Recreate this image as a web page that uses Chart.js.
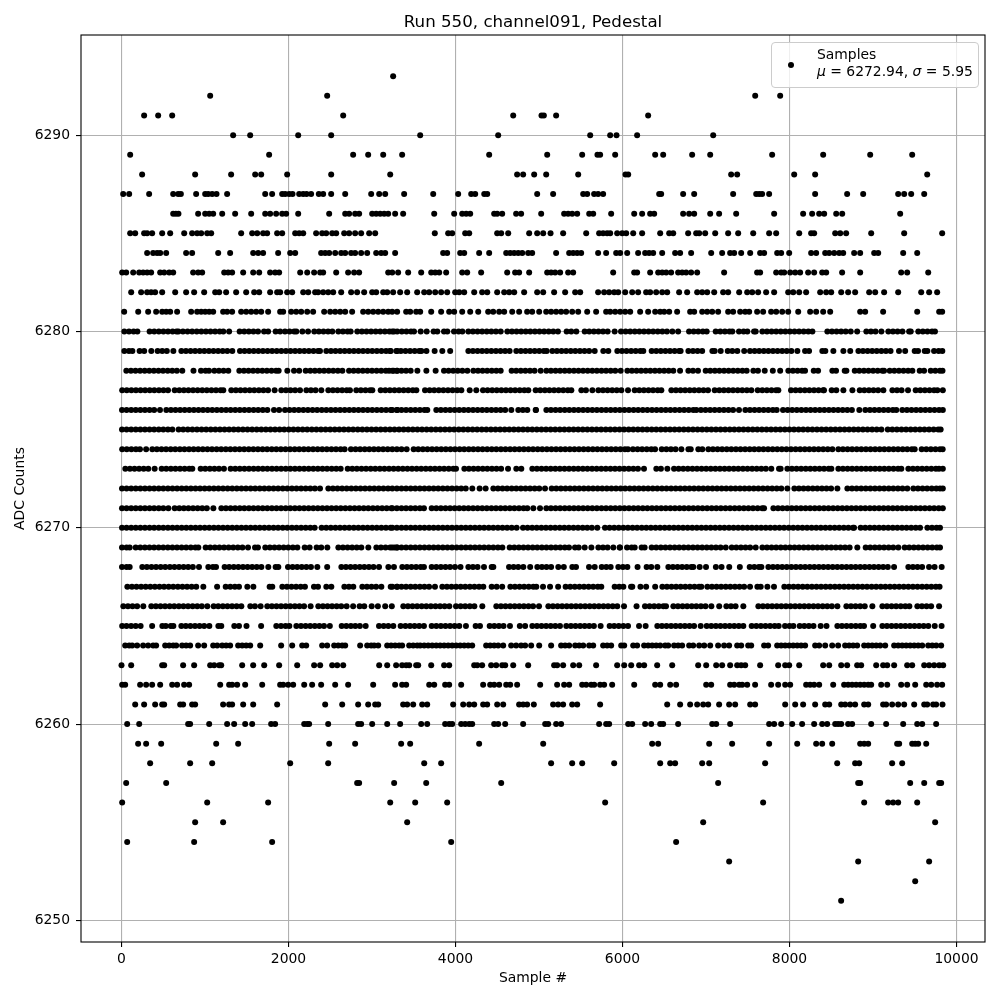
<!DOCTYPE html>
<html>
<head>
<meta charset="utf-8">
<title>Run 550, channel091, Pedestal</title>
<script src="https://cdn.jsdelivr.net/npm/chart.js@4"></script>
<style>
  body { margin: 0; background: #fff; font-family: "DejaVu Sans", sans-serif; }
  #wrap { position: relative; width: 1000px; height: 1000px; }
  #legendBox {
    position: absolute; left: 771px; top: 42px; width: 206px; height: 44px;
    background: rgba(255,255,255,0.8); border: 1px solid #ccc; border-radius: 4px;
    font-size: 13.9px; line-height: 16.5px; color: #000;
  }
  #legendDot { position: absolute; left: 16px; top: 19px; width: 6px; height: 6px; border-radius: 50%; background: #000; }
  #legendText { position: absolute; left: 45px; top: 3px; white-space: pre; }
</style>
</head>
<body>
<div id="wrap">
  <canvas id="grafico" width="1000" height="1000"></canvas>
  <div id="legendBox">
    <div id="legendDot"></div>
    <div id="legendText">Samples
<i>μ</i> = 6272.94, <i>σ</i> = 5.95</div>
  </div>
</div>
<script>
const xTicks = [0, 2000, 4000, 6000, 8000, 10000];
const yTicks = [6250, 6260, 6270, 6280, 6290];

// sample numbers, one list per ADC level
const adc6293 = [3253];
const adc6292 = [1062,2463,7589,7888];
const adc6291 = [271,439,607,2655,4691,5030,5058,5205,6307];
const adc6290 = [1337,1541,2116,2511,3577,4511,5613,5852,5928,6175,7086];
const adc6289 = [104,1768,2774,2954,3134,3361,4403,5098,5517,5700,5732,5912,6391,6487,6834,7050,7792,8403,8966,9469];
const adc6288 = [247,882,1313,1601,1673,1984,2511,3218,4738,4810,4942,5086,5469,6036,6068,7301,7373,8056,8307,9649];
const adc6287 = [20,92,331,619,679,711,894,1002,1038,1086,1138,1265,1721,1804,1924,1960,2008,2048,2128,2176,2216,2271,2363,2415,2511,2679,2990,3086,3158,3385,3733,4032,4188,4236,4344,4380,4978,5169,5529,5577,5660,5708,5768,6439,6463,6726,6858,7325,7601,7637,7672,7756,8307,8690,8882,9301,9373,9457,9613];
const adc6286 = [619,651,682,918,1002,1050,1098,1206,1361,1553,1721,1780,1852,1924,1972,2116,2487,2679,2726,2798,2846,3002,3050,3098,3146,3194,3277,3373,3745,3984,4080,4128,4176,4463,4499,4559,4726,4786,5026,5301,5349,5397,5457,5601,5649,5864,6140,6235,6331,6379,6726,6798,6858,7050,7157,7361,7816,8163,8271,8355,8415,8559,8631,9325];
const adc6285 = [104,164,271,307,367,487,583,751,846,906,954,1026,1074,1433,1565,1625,1696,1744,1864,1924,2080,2128,2176,2331,2403,2451,2523,2571,2667,2726,2798,2870,2966,3038,3752,3912,3960,4116,4164,4499,4547,4631,4882,4978,5050,5138,5289,5565,5720,5768,5816,5852,5936,5996,6044,6128,6235,6451,6559,6607,6786,6882,6918,6990,7110,7265,7385,7565,7756,7840,8116,8259,8295,8547,8607,8678,8978,9373,9828];
const adc6284 = [307,379,427,463,535,774,846,1158,1301,1577,1637,1696,1876,2020,2080,2391,2439,2487,2559,2631,2679,2750,2798,2870,2942,3050,3110,3158,3277,3852,3900,4056,4104,4283,4403,4607,4655,4703,4751,4799,4870,4918,5205,5361,5409,5457,5505,5708,5804,5924,5972,6056,6187,6271,6319,6367,6475,6630,6690,6822,7062,7193,7289,7337,7421,7529,7648,7696,7852,7900,7996,8259,8319,8427,8475,8535,8595,8643,8774,8846,9014,9062,9361,9529];
const adc6283 = [8,56,140,212,259,307,355,463,511,571,619,858,918,966,1230,1277,1325,1457,1577,1649,1780,1840,1888,2140,2224,2307,2379,2415,2571,2714,2786,2846,3194,3242,3313,3433,3589,3709,3757,3805,3888,4080,4140,4307,4619,4714,4762,4882,5098,5145,5193,5253,5349,5409,5888,6140,6175,6331,6427,6475,6523,6582,6666,6714,6762,6822,6894,7217,7612,7648,7840,7900,7936,8008,8068,8127,8223,8295,8391,8439,8630,8846,9337,9409,9661];
const adc6282 = [116,235,307,355,403,487,643,774,870,990,1122,1170,1253,1373,1493,1589,1649,1780,1864,1900,1984,2044,2176,2236,2319,2355,2415,2475,2535,2631,2750,2822,2906,3002,3050,3134,3182,3253,3337,3421,3541,3625,3685,3757,3828,3900,3996,4044,4104,4224,4319,4380,4499,4583,4643,4703,4822,4978,5050,5181,5313,5433,5493,5708,5780,5840,5900,5948,6032,6116,6187,6283,6331,6403,6475,6535,6678,6774,6894,6954,7014,7098,7205,7265,7397,7493,7553,7624,7720,7816,7984,8044,8116,8199,8367,8439,8499,8619,8702,8786,8954,9026,9133,9301,9577,9672,9768];
const adc6281 = [32,200,319,415,487,535,583,666,834,906,954,1002,1050,1098,1217,1265,1325,1433,1493,1553,1613,1673,1756,1900,1936,2032,2092,2152,2224,2295,2427,2499,2559,2619,2679,2762,2894,2954,3014,3074,3134,3194,3242,3301,3409,3457,3529,3577,3709,3828,3924,3984,4080,4176,4272,4391,4451,4523,4583,4679,4762,4858,4918,5002,5086,5145,5205,5265,5325,5397,5469,5577,5684,5804,5852,5912,5972,6032,6092,6211,6307,6391,6451,6499,6559,6654,6810,6858,6954,7014,7074,7145,7265,7325,7409,7469,7517,7612,7684,7780,7840,7912,7984,8104,8247,8319,8403,8487,8846,8906,9121,9529,9792,9828];
const adc6280 = [34,90,145,190,337,392,447,502,557,612,659,681,736,791,846,901,956,1011,1066,1121,1176,1219,1289,1415,1470,1525,1580,1635,1707,1756,1846,1900,1958,2013,2068,2094,2166,2234,2309,2364,2419,2474,2525,2597,2652,2707,2744,2824,2879,2934,2989,3044,3099,3154,3209,3264,3302,3243,3357,3412,3467,3503,3583,3655,3738,3782,3862,3902,3982,4037,4082,4154,4209,4264,4319,4374,4429,4484,4541,4621,4676,4731,4786,4841,4896,4951,5006,5061,5116,5171,5227,5331,5386,5447,5547,5602,5657,5712,5767,5822,5906,5982,6037,6092,6147,6202,6257,6312,6367,6422,6477,6532,6597,6666,6797,6852,6907,6962,7008,7116,7171,7226,7281,7315,7395,7450,7495,7575,7595,7675,7730,7785,7840,7895,7950,8005,8060,8115,8170,8225,8274,8453,8508,8563,8618,8673,8733,8810,8920,8975,9030,9100,9184,9239,9294,9352,9432,9452,9542,9597,9652,9707,9742];
const adc6279 = [34,89,130,217,272,357,433,488,543,621,717,772,827,882,937,992,1047,1102,1157,1212,1267,1327,1419,1474,1529,1584,1639,1694,1749,1804,1859,1914,1969,2024,2079,2134,2189,2244,2299,2354,2377,2453,2508,2563,2618,2673,2728,2783,2838,2893,2948,3003,3058,3113,3168,3224,3303,3215,3291,3346,3401,3456,3511,3566,3591,3652,3750,3842,3936,4154,4209,4264,4319,4374,4429,4484,4539,4594,4648,4728,4783,4838,4893,4948,5003,5058,5092,5160,5215,5270,5325,5380,5435,5490,5545,5600,5667,5770,5830,5938,5993,6048,6103,6158,6213,6249,6349,6404,6459,6514,6569,6624,6679,6696,6789,6844,6899,6954,7076,7104,7176,7260,7315,7375,7457,7527,7582,7637,7692,7747,7802,7857,7912,7967,8022,8094,8186,8234,8393,8429,8525,8645,8727,8825,8880,8935,8990,9045,9100,9155,9210,9311,9385,9499,9539,9619,9651,9731,9786,9830];
const adc6278 = [58,113,168,223,278,333,388,443,498,553,608,663,728,862,952,1007,1048,1112,1167,1222,1279,1411,1466,1521,1576,1631,1686,1741,1796,1851,1882,1986,2066,2128,2206,2261,2316,2371,2426,2481,2536,2591,2645,2725,2780,2835,2890,2945,3000,3055,3110,3165,3204,3259,3302,3243,3298,3353,3408,3463,3543,3651,3762,3862,3917,3972,4027,4082,4142,4214,4269,4324,4379,4434,4489,4541,4672,4727,4782,4837,4892,4947,5020,5088,5143,5198,5253,5308,5363,5418,5473,5528,5583,5638,5693,5748,5803,5858,5913,5978,6058,6113,6168,6223,6278,6333,6388,6443,6498,6553,6608,6689,6789,6844,6904,6996,7051,7106,7161,7216,7271,7326,7381,7436,7487,7567,7622,7703,7800,7888,7986,8041,8096,8151,8186,8290,8342,8513,8557,8661,8681,8781,8836,8891,8946,9001,9056,9111,9132,9200,9255,9310,9365,9420,9471,9559,9611,9691,9746,9801,9832];
const adc6277 = [8,63,118,173,228,283,338,393,448,503,557,637,692,747,802,857,912,967,1022,1077,1132,1187,1219,1315,1370,1425,1480,1535,1590,1645,1700,1755,1834,1914,1969,2024,2079,2138,2214,2269,2324,2393,2477,2532,2587,2642,2697,2736,2812,2867,2922,2977,3004,3104,3159,3214,3269,3324,3379,3434,3489,3531,3635,3690,3745,3800,3855,3910,3965,4020,4070,4170,4249,4329,4384,4439,4494,4549,4604,4659,4714,4769,4824,4872,4960,5015,5070,5125,5180,5235,5290,5345,5387,5507,5562,5639,5711,5766,5821,5876,5931,5986,6066,6146,6201,6256,6311,6366,6421,6465,6585,6640,6695,6750,6805,6860,6915,6970,7024,7104,7159,7214,7269,7324,7379,7434,7489,7543,7619,7674,7729,7784,7839,7866,8018,8073,8128,8183,8238,8293,8348,8403,8413,8505,8560,8645,8753,8841,8896,8951,9006,9061,9124,9232,9287,9342,9419,9511,9566,9621,9676,9731,9771,9836];
const adc6276 = [6,61,116,171,226,281,336,391,461,537,592,647,702,757,812,867,922,977,1032,1087,1142,1197,1252,1307,1362,1417,1472,1527,1582,1637,1692,1747,1826,1888,1958,2013,2068,2123,2178,2233,2288,2343,2398,2453,2508,2563,2618,2673,2728,2783,2838,2893,2948,3003,3058,3113,3168,3223,3302,3243,3298,3353,3408,3463,3518,3573,3628,3662,3770,3825,3880,3935,3990,4045,4100,4155,4210,4265,4320,4375,4430,4485,4540,4595,4668,4752,4807,4860,4960,4964,5088,5143,5198,5253,5308,5363,5418,5473,5528,5583,5638,5693,5748,5803,5858,5913,5968,6023,6078,6133,6188,6243,6298,6353,6408,6463,6518,6573,6628,6683,6738,6793,6848,6884,6939,6994,7049,7104,7159,7214,7269,7324,7395,7471,7526,7581,7636,7691,7746,7801,7846,7922,7977,8032,8087,8142,8197,8252,8307,8362,8417,8472,8527,8582,8637,8692,8747,8836,8908,8963,9018,9073,9128,9183,9238,9279,9351,9406,9461,9516,9571,9626,9681,9736,9791,9836];
const adc6275 = [6,61,116,171,226,281,336,391,446,501,556,609,684,739,794,849,904,959,1014,1069,1124,1179,1234,1289,1344,1399,1454,1509,1564,1619,1674,1729,1784,1839,1894,1949,2004,2059,2114,2169,2224,2279,2334,2389,2444,2499,2554,2609,2664,2719,2774,2829,2884,2939,2994,3049,3104,3159,3214,3269,3324,3379,3434,3489,3544,3599,3654,3709,3764,3819,3874,3929,3984,4039,4094,4149,4204,4259,4314,4369,4424,4479,4534,4589,4644,4699,4754,4809,4864,4919,4974,5029,5084,5139,5194,5249,5304,5359,5414,5469,5524,5579,5634,5689,5744,5799,5854,5909,5964,6019,6074,6129,6184,6239,6294,6349,6404,6459,6514,6569,6624,6679,6734,6789,6844,6899,6954,7009,7064,7119,7174,7229,7284,7339,7394,7449,7504,7559,7614,7669,7724,7779,7834,7889,7944,7999,8054,8109,8164,8219,8274,8329,8384,8439,8494,8549,8604,8659,8714,8769,8824,8879,8934,8989,9044,9100,9176,9231,9286,9341,9396,9451,9506,9561,9616,9671,9726,9781,9810];
const adc6274 = [8,63,118,173,221,295,369,424,479,534,589,644,699,754,809,864,919,974,1029,1084,1139,1194,1249,1304,1359,1414,1469,1524,1579,1634,1689,1744,1799,1854,1909,1964,2019,2074,2129,2184,2239,2294,2349,2404,2459,2514,2569,2624,2672,2748,2803,2858,2913,2968,3023,3078,3133,3188,3243,3298,3353,3415,3499,3554,3609,3664,3719,3774,3829,3884,3939,3994,4049,4104,4159,4214,4269,4324,4379,4434,4489,4544,4599,4654,4709,4764,4819,4874,4929,4984,5039,5094,5149,5204,5259,5314,5369,5424,5479,5534,5589,5644,5699,5754,5809,5864,5919,5974,6029,6065,6125,6180,6235,6290,6345,6390,6470,6525,6580,6635,6705,6789,6817,6908,6956,7028,7083,7138,7193,7248,7303,7358,7413,7468,7523,7578,7633,7688,7743,7798,7853,7908,7963,8018,8073,8128,8183,8238,8293,8348,8403,8458,8513,8585,8640,8695,8750,8805,8860,8915,8970,9025,9080,9135,9190,9245,9300,9355,9410,9465,9499,9583,9638,9693,9748,9802,9834];
const adc6273 = [46,101,156,211,266,321,397,481,536,591,646,701,756,811,848,948,1003,1058,1113,1168,1227,1307,1362,1417,1472,1527,1582,1637,1692,1747,1802,1857,1912,1967,2022,2077,2132,2187,2242,2297,2352,2407,2462,2517,2572,2625,2709,2764,2819,2874,2929,2984,3039,3094,3149,3204,3259,3314,3369,3424,3479,3534,3589,3644,3699,3754,3809,3864,3919,3974,4006,4106,4161,4216,4271,4326,4381,4436,4491,4546,4629,4728,4788,4920,4975,5030,5085,5140,5195,5250,5305,5360,5415,5470,5525,5580,5635,5690,5745,5800,5855,5910,5965,6020,6075,6130,6185,6257,6405,6460,6537,6617,6672,6727,6782,6837,6892,6947,7002,7057,7112,7167,7222,7277,7332,7387,7442,7497,7552,7607,7662,7717,7782,7874,7894,7974,8029,8084,8139,8194,8249,8304,8359,8414,8469,8501,8585,8640,8695,8750,8805,8860,8915,8970,9025,9080,9135,9190,9245,9300,9339,9423,9478,9533,9588,9643,9698,9753,9790,9836];
const adc6272 = [6,61,116,171,226,281,336,391,446,501,556,611,666,721,776,831,886,941,996,1051,1106,1161,1216,1271,1326,1381,1436,1491,1546,1601,1656,1711,1766,1821,1876,1931,1986,2041,2096,2151,2206,2261,2316,2377,2477,2532,2587,2642,2697,2752,2807,2862,2917,2972,3027,3082,3137,3192,3243,3298,3353,3408,3463,3518,3573,3628,3683,3738,3793,3848,3903,3958,4013,4068,4123,4201,4289,4361,4453,4508,4563,4618,4673,4728,4783,4838,4893,4948,5003,5072,5152,5207,5262,5317,5372,5427,5482,5537,5592,5647,5702,5757,5812,5867,5922,5977,6032,6087,6142,6197,6252,6307,6362,6417,6472,6527,6582,6637,6692,6747,6802,6857,6912,6967,7022,7077,7132,7187,7242,7297,7352,7407,7462,7517,7572,7627,7682,7737,7792,7847,7902,7974,8058,8113,8168,8223,8278,8333,8388,8443,8498,8573,8693,8748,8803,8858,8913,8968,9023,9078,9133,9188,9243,9298,9353,9411,9483,9538,9593,9648,9703,9758,9802,9836];
const adc6271 = [6,61,116,171,226,281,336,391,446,501,561,637,692,747,802,857,912,967,1022,1100,1196,1251,1306,1361,1416,1471,1526,1581,1636,1691,1746,1801,1856,1911,1966,2021,2076,2131,2186,2241,2296,2351,2406,2461,2516,2571,2626,2681,2736,2791,2846,2901,2956,3011,3066,3121,3176,3231,3243,3298,3353,3408,3463,3518,3573,3622,3715,3770,3825,3880,3935,3990,4045,4100,4155,4210,4265,4320,4375,4430,4485,4540,4595,4650,4705,4760,4815,4860,4932,5012,5088,5143,5198,5253,5308,5363,5418,5473,5528,5583,5638,5693,5748,5803,5858,5913,5968,6023,6078,6133,6188,6243,6298,6353,6408,6463,6518,6573,6628,6683,6738,6793,6848,6903,6958,7013,7068,7123,7178,7233,7288,7343,7398,7453,7508,7563,7618,7673,7695,7807,7862,7917,7972,8027,8082,8137,8192,8247,8302,8357,8412,8467,8522,8577,8632,8687,8742,8797,8852,8907,8962,9017,9072,9127,9182,9237,9292,9347,9402,9457,9512,9567,9622,9677,9732,9787,9836];
const adc6270 = [6,61,116,171,226,281,336,391,446,501,556,611,666,721,776,831,886,941,996,1051,1106,1161,1216,1271,1326,1381,1436,1491,1546,1601,1656,1711,1766,1821,1876,1931,1986,2041,2096,2151,2206,2261,2313,2397,2452,2507,2562,2617,2672,2727,2782,2837,2892,2947,3002,3057,3112,3167,3222,3243,3298,3353,3408,3463,3518,3573,3628,3683,3738,3793,3848,3903,3958,4013,4068,4123,4178,4233,4288,4343,4398,4453,4508,4563,4618,4673,4732,4808,4863,4918,4973,5028,5083,5138,5193,5248,5303,5358,5413,5468,5523,5578,5633,5698,5790,5845,5900,5955,6010,6065,6120,6175,6230,6285,6340,6395,6450,6505,6560,6615,6670,6725,6780,6835,6890,6945,7000,7055,7110,7165,7220,7275,7330,7385,7440,7495,7550,7605,7660,7715,7770,7825,7880,7935,7990,8045,8100,8155,8210,8265,8320,8375,8430,8485,8540,8595,8650,8705,8760,8773,8852,8907,8962,9017,9072,9127,9182,9237,9292,9347,9402,9457,9512,9563,9651,9706,9761,9802];
const adc6269 = [6,61,98,170,225,280,335,390,445,500,555,610,665,720,775,830,885,920,1008,1063,1118,1173,1228,1283,1338,1393,1448,1515,1599,1634,1722,1777,1832,1887,1942,1997,2052,2106,2194,2253,2337,2392,2465,2597,2652,2707,2762,2817,2872,2956,3052,3107,3162,3217,3272,3302,3243,3298,3353,3408,3463,3518,3573,3628,3683,3738,3793,3848,3903,3958,4013,4068,4123,4178,4233,4288,4343,4398,4453,4508,4561,4649,4704,4759,4814,4869,4924,4979,5034,5089,5144,5199,5254,5309,5359,5431,5475,5547,5627,5711,5766,5821,5890,5966,5970,6054,6109,6146,6229,6265,6349,6404,6459,6514,6569,6624,6679,6734,6789,6844,6899,6954,7009,7064,7119,7174,7236,7308,7363,7418,7473,7528,7595,7675,7730,7785,7840,7895,7950,8005,8060,8115,8170,8225,8280,8335,8390,8445,8500,8555,8610,8665,8720,8812,8912,8967,9022,9077,9132,9187,9242,9303,9379,9434,9489,9544,9599,9654,9709,9764,9802];
const adc6268 = [6,61,98,249,304,359,414,469,524,579,634,689,744,799,854,928,1040,1095,1132,1235,1290,1345,1400,1455,1510,1565,1620,1675,1758,1846,1878,1994,2049,2104,2159,2214,2269,2345,2463,2633,2688,2743,2798,2853,2908,2963,3018,3084,3196,3263,3363,3418,3473,3528,3583,3622,3715,3770,3825,3880,3935,3994,4060,4154,4209,4264,4341,4433,4453,4641,4696,4751,4812,4894,4980,5035,5090,5145,5231,5297,5399,5443,5599,5667,5751,5806,5858,5950,6005,6058,6180,6289,6344,6417,6549,6604,6659,6714,6769,6824,6848,6924,7000,7118,7186,7278,7405,7523,7578,7633,7663,7747,7802,7857,7912,7967,8022,8077,8132,8187,8242,8297,8352,8407,8462,8517,8572,8627,8682,8737,8792,8847,8902,8957,9012,9067,9122,9177,9252,9423,9478,9533,9588,9671,9737,9822];
const adc6267 = [70,125,180,235,290,345,400,455,510,565,620,675,730,785,840,895,980,1145,1248,1303,1358,1407,1507,1579,1774,1806,1926,1981,2036,2091,2146,2197,2305,2353,2453,2513,2669,2724,2776,2884,2939,2994,3049,3112,3224,3302,3243,3298,3353,3408,3463,3518,3573,3628,3683,3754,3842,3897,3952,4007,4062,4117,4172,4227,4282,4333,4433,4493,4559,4657,4712,4767,4822,4877,4932,4968,5048,5132,5229,5319,5374,5429,5484,5539,5594,5649,5704,5746,5906,5961,6010,6102,6117,6215,6283,6391,6477,6532,6587,6642,6697,6752,6807,6862,6917,6944,7016,7071,7126,7181,7236,7291,7346,7401,7456,7527,7615,7655,7735,7814,7938,7993,8048,8103,8158,8213,8268,8323,8378,8433,8488,8543,8598,8653,8708,8763,8818,8873,8928,8983,9038,9093,9148,9203,9258,9313,9368,9423,9478,9533,9588,9643,9698,9753,9797];
const adc6266 = [22,77,132,187,261,357,412,467,522,577,632,687,742,797,852,907,962,1028,1104,1159,1214,1269,1324,1379,1435,1543,1598,1666,1746,1801,1856,1911,1966,2021,2076,2131,2186,2265,2357,2412,2467,2522,2577,2632,2696,2774,2852,2907,2996,3070,3158,3237,3375,3430,3485,3540,3595,3650,3705,3760,3815,3870,3926,4006,4061,4116,4171,4226,4321,4489,4544,4599,4654,4709,4764,4819,4874,4929,5000,5112,5167,5222,5277,5332,5387,5442,5497,5552,5607,5662,5717,5772,5827,5882,5937,6018,6168,6269,6324,6379,6434,6489,6521,6609,6664,6719,6774,6829,6884,6939,6994,7064,7158,7244,7299,7354,7447,7627,7682,7737,7792,7847,7902,7957,8012,8067,8122,8177,8232,8287,8342,8397,8452,8507,8573,8681,8736,8791,8846,8901,8992,9112,9167,9222,9277,9332,9387,9435,9531,9586,9641,9696,9791];
const adc6265 = [8,60,115,170,229,367,489,530,590,621,717,770,825,880,935,990,1052,1160,1195,1351,1407,1497,1672,1854,1910,1965,2010,2094,2150,2205,2260,2315,2370,2425,2495,2637,2692,2747,2800,2855,2924,3084,3140,3195,3255,3343,3400,3455,3510,3565,3622,3715,3770,3825,3880,3935,3990,4045,4125,4241,4293,4409,4465,4520,4575,4652,4770,4834,4920,4975,5030,5085,5140,5195,5251,5327,5382,5437,5492,5547,5602,5657,5738,5846,5900,5955,6010,6066,6198,6277,6417,6472,6527,6582,6637,6692,6747,6802,6857,6936,7008,7063,7118,7173,7228,7283,7338,7393,7447,7547,7602,7657,7712,7767,7822,7870,7946,8000,8046,8122,8177,8232,8287,8373,8443,8573,8628,8683,8738,8793,8848,8892,9002,9112,9167,9222,9277,9332,9387,9442,9497,9552,9607,9662,9739,9821];
const adc6264 = [44,92,128,187,259,319,379,415,523,571,619,655,726,774,822,918,990,1098,1146,1206,1253,1301,1397,1445,1493,1541,1661,1912,2044,2164,2212,2403,2463,2547,2595,2643,2679,2858,2942,2990,3026,3074,3182,3229,3277,3325,3361,3445,3493,3541,3577,3625,3673,3721,3769,3816,3864,3912,3960,4008,4056,4104,4152,4200,4367,4415,4463,4511,4571,4667,4726,4786,4834,4906,5002,5145,5265,5313,5361,5433,5481,5529,5601,5649,5768,5816,5864,5984,6020,6128,6175,6259,6307,6355,6403,6451,6511,6547,6618,6666,6714,6798,6846,6918,6978,7050,7145,7217,7277,7373,7421,7505,7541,7696,7744,7852,7900,7948,7996,8044,8092,8139,8187,8307,8355,8427,8511,8582,8666,8714,8762,8810,8894,8942,8990,9038,9086,9146,9253,9301,9349,9397,9445,9493,9541,9589,9661,9709,9757,9816];
const adc6263 = [0,116,487,511,738,870,1062,1110,1170,1194,1445,1577,1709,1888,2104,2307,2379,2523,2583,2655,3086,3182,3289,3361,3409,3445,3529,3553,3709,3864,3924,4224,4260,4319,4427,4487,4559,4595,4691,4870,5181,5217,5289,5409,5481,5684,5936,6020,6104,6199,6259,6415,6595,6906,7002,7122,7193,7289,7373,7421,7469,7648,7864,7948,7996,8116,8403,8475,8619,8690,8810,8858,9038,9121,9170,9253,9409,9469,9613,9672,9732,9792,9840];
const adc6262 = [8,44,223,295,367,463,607,666,750,810,1182,1289,1325,1385,1481,1685,1900,1936,1996,2056,2188,2283,2391,2559,2714,3014,3277,3361,3409,3685,3745,3876,3924,4068,4331,4415,4463,4523,4607,4655,4738,5014,5217,5301,5361,5517,5565,5625,5661,5732,5780,5876,6140,6391,6451,6571,6642,7002,7062,7289,7337,7397,7433,7493,7588,7780,7864,7948,8008,8199,8247,8295,8355,8523,8654,8702,8750,8798,8846,8894,8942,8978,9098,9170,9337,9409,9505,9637,9697,9768,9828];
const adc6261 = [164,271,403,487,511,703,738,846,882,1217,1289,1325,1457,1577,1864,2439,2643,2834,2954,3038,3074,3373,3421,3493,3601,3661,3972,4092,4164,4224,4331,4379,4499,4571,4762,4810,4858,4938,5169,5229,5289,5397,5457,5732,6535,6690,6810,6894,6966,7026,7157,7277,7349,7529,7588,7948,8068,8163,8307,8427,8475,8619,8666,8726,8786,8894,8942,9121,9157,9229,9301,9373,9493,9613,9649,9720,9756,9832];
const adc6260 = [68,212,798,822,1050,1265,1349,1481,1565,1792,1840,2188,2224,2247,2475,2834,2870,3002,3182,3337,3589,3661,3876,3924,3960,4068,4116,4164,4200,4463,4511,4595,4810,5074,5110,5205,5265,5720,5804,5840,6068,6116,6271,6343,6451,6487,6666,7074,7122,7289,7756,7816,7900,8032,8151,8295,8391,8451,8547,8582,8619,8702,8750,8978,9157,9361,9529,9589,9756];
const adc6259 = [199,295,475,1134,1397,2487,2798,3349,3457,4283,5050,6355,6427,7038,7313,7756,8092,8319,8391,8511,8846,8894,8942,9289,9313,9469,9505,9541,9637];
const adc6258 = [343,822,1086,2020,2475,3625,3828,5145,5397,5517,5900,6451,6571,6630,6954,7038,7708,8571,8786,8834,9229,9349];
const adc6257 = [56,535,2822,2846,3265,3649,4547,7145,8822,8846,9445,9613,9792,9816];
const adc6256 = [8,1026,1756,3218,3517,3900,5792,7684,8894,9181,9241,9301,9529];
const adc6255 = [882,1217,3421,6966,9744];
const adc6254 = [68,870,1804,3948,6642];
const adc6253 = [7277,8822,9672];
const adc6252 = [9505];
const adc6251 = [8618];

const levels = [
  [6293, adc6293], [6292, adc6292], [6291, adc6291], [6290, adc6290], [6289, adc6289], [6288, adc6288],
  [6287, adc6287], [6286, adc6286], [6285, adc6285], [6284, adc6284], [6283, adc6283], [6282, adc6282],
  [6281, adc6281], [6280, adc6280], [6279, adc6279], [6278, adc6278], [6277, adc6277], [6276, adc6276],
  [6275, adc6275], [6274, adc6274], [6273, adc6273], [6272, adc6272], [6271, adc6271], [6270, adc6270],
  [6269, adc6269], [6268, adc6268], [6267, adc6267], [6266, adc6266], [6265, adc6265], [6264, adc6264],
  [6263, adc6263], [6262, adc6262], [6261, adc6261], [6260, adc6260], [6259, adc6259], [6258, adc6258],
  [6257, adc6257], [6256, adc6256], [6255, adc6255], [6254, adc6254], [6253, adc6253], [6252, adc6252],
  [6251, adc6251]
];

const pontos = [];
levels.forEach(([adc, samples]) => {
  samples.forEach((s) => pontos.push({ x: s, y: adc }));
});

const fonte = { family: "'DejaVu Sans'", size: 13.9 };

// spines on all four sides, like the reference
const moldura = {
  id: "moldura",
  afterDraw(chart) {
    const a = chart.chartArea;
    const c = chart.ctx;
    c.save();
    c.strokeStyle = "#000";
    c.lineWidth = 1.1;
    c.strokeRect(a.left, a.top, a.right - a.left, a.bottom - a.top);
    c.restore();
  },
};

new Chart(document.getElementById("grafico").getContext("2d"), {
  type: "scatter",
  data: {
    datasets: [
      {
        label: "Samples",
        data: pontos,
        backgroundColor: "#000",
        borderWidth: 0,
        pointRadius: 3,
      },
    ],
  },
  options: {
    responsive: false,
    animation: false,
    devicePixelRatio: 1,
    layout: { padding: { left: 0, right: 15, top: 0, bottom: 0 } },
    plugins: {
      legend: { display: false },
      tooltip: { enabled: false },
      title: {
        display: true,
        fullSize: false,
        text: "Run 550, channel091, Pedestal",
        color: "#000",
        font: { family: "'DejaVu Sans'", size: 16.67, weight: "normal" },
        padding: { top: 13, bottom: 2 },
      },
    },
    scales: {
      x: {
        type: "linear",
        min: -485,
        max: 10341,
        afterBuildTicks: (s) => { s.ticks = xTicks.map((v) => ({ value: v })); },
        afterFit: (s) => { s.height = 58; },
        grid: { color: "#b0b0b0", lineWidth: 1.1, tickColor: "#000", tickLength: 5, drawTicks: true },
        border: { display: false },
        ticks: { color: "#000", font: fonte, padding: 4, maxRotation: 0, autoSkip: false, callback: (v) => String(v) },
        title: { display: true, text: "Sample #", color: "#000", font: fonte, padding: { top: 4, bottom: 13 } },
      },
      y: {
        type: "linear",
        min: 6248.9,
        max: 6295.1,
        afterBuildTicks: (s) => { s.ticks = yTicks.map((v) => ({ value: v })); },
        afterFit: (s) => { s.width = 81; },
        grid: { color: "#b0b0b0", lineWidth: 1.1, tickColor: "#000", tickLength: 5, drawTicks: true },
        border: { display: false },
        ticks: { color: "#000", font: fonte, padding: 6, autoSkip: false, callback: (v) => String(v) },
        title: { display: true, text: "ADC Counts", color: "#000", font: fonte, padding: { top: 12, bottom: 4 } },
      },
    },
  },
  plugins: [moldura],
});
</script>
</body>
</html>
